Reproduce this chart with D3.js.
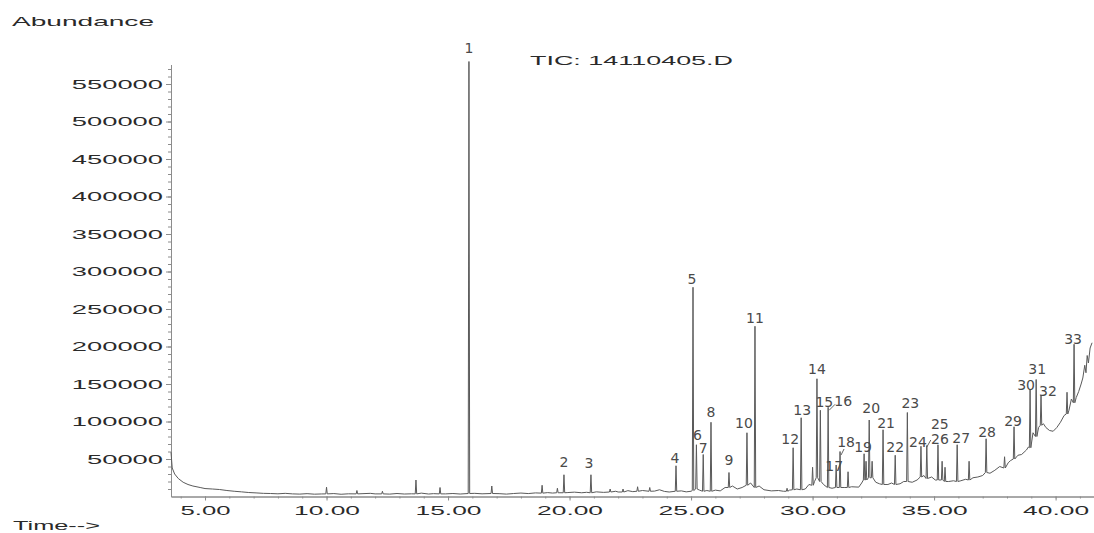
<!DOCTYPE html>
<html>
<head>
<meta charset="utf-8">
<script src="https://cdn.jsdelivr.net/npm/d3@7"></script>
<style>
    body { margin: 0; background: #fff; }
    .lbl { font-family: "Liberation Sans", Arial, sans-serif; fill: #2a2a2a; }
    .pk { font-family: "DejaVu Sans", sans-serif; font-size: 14px; fill: #4a4a4a; }
    .axis path, .axis line { stroke: #8c8c8c; }
</style>
</head>
<body>
<div class="chart"></div>
<script>
// labelled peaks: retention time (min), apex abundance, baseline under the peak
const peakLabels = ["1","2","3","4","5","6","7","8","9","10","11","12","13","14","15","16","17",
    "18","19","20","21","22","23","24","25","26","27","28","29","30","31","32","33"];
const peakTimes = [15.86, 19.77, 20.88, 24.38, 25.08, 25.22, 25.50, 25.82, 26.56, 27.30, 27.63,
    29.20, 29.53, 30.18, 30.32, 30.64, 30.97, 31.13, 32.12, 32.33, 32.90, 33.40, 33.90, 34.46,
    34.70, 35.16, 35.95, 37.14, 38.29, 38.95, 39.20, 39.40, 40.76];
const peakApex = [580000, 29000, 29000, 41000, 279000, 69000, 56000, 99000, 32000, 85000, 227000,
    65000, 105000, 157000, 115000, 119000, 42000, 60000, 57000, 102000, 89000, 55000, 112000, 67000,
    68000, 69000, 69000, 77000, 93000, 143000, 156000, 135000, 203000];
const peakFoot = [4000, 5000, 5000, 7000, 8000, 10000, 7000, 7000, 12000, 15000, 12000,
    9000, 9000, 25000, 20000, 12000, 12000, 12000, 22000, 25000, 16000, 16000, 20000, 26000,
    24000, 22000, 20000, 32000, 50000, 65000, 80000, 95000, 125000];

// small unlabelled peaks: time, apex, foot
const minorPeaks = [
    [10.00, 12400, 3500], [11.25, 8000, 3500], [12.30, 7000, 3500], [13.68, 22000, 3500],
    [14.67, 12000, 3500], [16.80, 14000, 4000], [18.87, 15000, 4500], [19.50, 11000, 5000],
    [21.67, 10000, 6000], [22.20, 10000, 6000], [22.80, 13000, 7000], [23.30, 12000, 7000],
    [28.95, 11000, 7000], [30.00, 39000, 15000], [31.46, 33000, 12000], [32.20, 47000, 22000],
    [32.45, 47000, 25000], [35.33, 47000, 22000], [35.45, 39000, 20000], [36.44, 47000, 22000],
    [37.90, 53000, 38000], [40.47, 139000, 110000]
];

// baseline of the trace: time, abundance
const baseline = [
    [3.60, 59000], [3.65, 38000], [3.75, 30000], [3.90, 24000], [4.10, 19000], [4.30, 16000],
    [4.50, 14000], [4.80, 12000], [5.00, 10600], [5.30, 10000], [5.60, 9300], [5.90, 8000],
    [6.20, 7000], [6.50, 6200], [6.80, 5300], [7.10, 4800], [7.40, 4200], [7.70, 4000],
    [8.00, 3600], [8.30, 4200], [8.60, 3500], [8.90, 3200], [9.20, 3800], [9.50, 3100],
    [9.80, 3400], [10.30, 3900], [10.60, 3000], [10.90, 3600], [11.50, 3800], [11.80, 4200],
    [12.00, 3500], [12.60, 3200], [12.90, 4000], [13.20, 3300], [13.50, 3600], [13.90, 4500],
    [14.20, 3300], [14.40, 3800], [14.90, 3500], [15.20, 4000], [15.50, 3300], [16.10, 4200],
    [16.40, 3600], [17.10, 3800], [17.40, 3200], [17.70, 4000], [18.00, 4600], [18.30, 3900],
    [18.60, 4800], [19.10, 5200], [19.30, 4600], [19.90, 5200], [20.20, 5800], [20.50, 5000],
    [20.70, 5600], [21.10, 6200], [21.40, 5500], [21.90, 7000], [22.00, 6000], [22.40, 7800],
    [22.60, 6500], [23.00, 8000], [23.50, 7200], [23.70, 9000], [23.90, 6800], [24.10, 6000],
    [24.60, 7500], [24.80, 6200], [25.00, 7000], [25.35, 8500], [25.65, 8000], [26.00, 8500],
    [26.20, 7500], [26.40, 12000], [26.70, 14000], [26.90, 10000], [27.10, 12000], [27.45, 18000],
    [27.80, 14000], [28.00, 9000], [28.30, 7500], [28.60, 8000], [28.80, 7000], [29.05, 8500],
    [29.35, 10000], [29.70, 10000], [29.85, 16000], [30.08, 20000], [30.45, 16000], [30.80, 11000],
    [31.30, 12000], [31.60, 13000], [31.90, 12500], [32.02, 18000], [32.60, 19000], [32.75, 17000],
    [33.10, 16000], [33.25, 18000], [33.60, 17000], [33.75, 20000], [34.10, 19000], [34.30, 22000],
    [34.58, 28000], [34.90, 26000], [35.05, 22000], [35.60, 20000], [35.80, 21000], [36.10, 21000],
    [36.30, 23000], [36.60, 25000], [36.80, 26000], [37.00, 28000], [37.30, 31000], [37.50, 35000],
    [37.70, 40000], [38.05, 45000], [38.15, 48000], [38.45, 55000], [38.60, 56000], [38.80, 62000],
    [38.88, 66000], [39.07, 85000], [39.30, 92000], [39.50, 97000], [39.60, 92000], [39.75, 88000],
    [39.90, 87000], [40.05, 92000], [40.20, 99000], [40.35, 108000], [40.55, 115000], [40.65, 130000],
    [40.85, 132000], [40.95, 140000], [41.05, 150000], [41.12, 158000], [41.20, 175000], [41.25, 165000],
    [41.30, 188000], [41.35, 178000], [41.42, 198000], [41.50, 205000]
];

const yTicks = [50000, 100000, 150000, 200000, 250000, 300000, 350000, 400000, 450000, 500000, 550000];
const xTicks = [5, 10, 15, 20, 25, 30, 35, 40];

function drawChart() {
    const margin = { top: 64.5, right: 0, bottom: 36.5, left: 171 };
    const w = 1094;
    const h = 533;
    const chartWidth = w - margin.left - margin.right;
    const chartHeight = h - margin.top - margin.bottom;

    const xScale = d3.scaleLinear()
        .domain([3.6, 41.58])
        .range([0, chartWidth]);

    const yScale = d3.scaleLinear()
        .domain([0, 576000])
        .range([chartHeight, 0]);

    const root = d3.select('.chart')
        .append('svg')
        .attr('width', w)
        .attr('height', h);

    root.append('text').attr('class', 'lbl')
        .attr('x', 12).attr('y', 26)
        .attr('font-size', 13)
        .attr('textLength', 142).attr('lengthAdjust', 'spacingAndGlyphs')
        .text('Abundance');

    root.append('text').attr('class', 'lbl')
        .attr('x', 530).attr('y', 65)
        .attr('font-size', 13)
        .attr('textLength', 203).attr('lengthAdjust', 'spacingAndGlyphs')
        .text('TIC: 14110405.D');

    root.append('text').attr('class', 'lbl')
        .attr('x', 13).attr('y', 530)
        .attr('font-size', 13)
        .attr('textLength', 87).attr('lengthAdjust', 'spacingAndGlyphs')
        .text('Time-->');

    const svg = root.append('g')
        .attr('transform', 'translate(' + margin.left + ', ' + margin.top + ')');

    // minor ticks first, then labelled ones
    svg.append('g')
        .attr('class', 'axis')
        .call(d3.axisLeft(yScale).tickValues(d3.range(10000, 576000, 10000)).tickSize(3).tickSizeOuter(0).tickFormat(''));

    const yAxis = svg.append('g')
        .attr('class', 'axis')
        .call(d3.axisLeft(yScale).tickValues(yTicks).tickSize(5).tickSizeOuter(0).tickFormat(d => String(d)));
    yAxis.selectAll('text')
        .attr('class', 'lbl')
        .attr('font-size', 13)
        .attr('x', -8)
        .attr('textLength', d => String(d).length * 15.2)
        .attr('lengthAdjust', 'spacingAndGlyphs');

    svg.append('g')
        .attr('class', 'axis')
        .attr('transform', 'translate(0,' + chartHeight + ')')
        .call(d3.axisBottom(xScale).tickValues(d3.range(4, 42, 1)).tickSize(2).tickSizeOuter(0).tickFormat(''));

    const xAxis = svg.append('g')
        .attr('class', 'axis')
        .attr('transform', 'translate(0,' + chartHeight + ')')
        .call(d3.axisBottom(xScale).tickValues(xTicks).tickSize(4).tickSizeOuter(0).tickFormat(d3.format('.2f')));
    xAxis.selectAll('text')
        .attr('class', 'lbl')
        .attr('font-size', 13)
        .attr('y', 9)
        .attr('textLength', d => d < 10 ? 50 : 66)
        .attr('lengthAdjust', 'spacingAndGlyphs');
    svg.selectAll('.axis .domain').attr('stroke', '#8c8c8c');

    // build trace: baseline points plus narrow spikes for every peak
    const hw = 0.03;
    let pts = baseline.map(d => [d[0], d[1]]);
    const allPeaks = peakTimes.map((t, i) => [t, peakApex[i], peakFoot[i]]).concat(minorPeaks);
    for (let p of allPeaks) {
        pts.push([p[0] - hw, p[2]], [p[0], p[1]], [p[0] + hw, p[2]]);
    }
    pts.sort((a, b) => a[0] - b[0]);

    const line = d3.line()
        .x(d => xScale(d[0]))
        .y(d => yScale(d[1]));

    svg.append('path')
        .datum(pts)
        .attr('d', line)
        .attr('fill', 'none')
        .attr('stroke', '#5a5a5a')
        .attr('stroke-width', 1)
        .attr('stroke-linejoin', 'round');

    // hand-written peak numbers, nudged like the annotated print
    const nudge = {
        1: [0, -3.5], 2: [0, -3], 3: [-2, -2], 4: [-1, 2], 5: [-1, 2], 6: [1, 0], 7: [0, 3],
        8: [0, 0], 9: [0, -3], 10: [-3, 0], 11: [0, 2], 12: [-3, 1], 13: [1, 2], 14: [0, 0],
        15: [4, 2], 16: [15, 4], 17: [-2, 11], 18: [6, 0], 19: [-1, 3], 20: [2, -2], 21: [3, 3],
        22: [0, 2], 23: [3, 0], 24: [-3, 6], 25: [13, -12], 26: [2, 4], 27: [4, 3], 28: [1, 3],
        29: [-1, 4], 30: [-4, 6], 31: [1, -1], 32: [7, 6], 33: [-1, 5]
    };

    svg.selectAll('.pk')
        .data(peakLabels)
        .enter()
        .append('text')
        .attr('class', 'pk')
        .attr('text-anchor', 'middle')
        .attr('x', (d, i) => xScale(peakTimes[i]) + nudge[d][0])
        .attr('y', (d, i) => yScale(peakApex[i]) - 5 + nudge[d][1])
        .text(d => d);

    const leaders = { 16: [1, 3, 7, -3], 18: [1, 3.5, 4, -2.5], 25: [0, 1.5, 4, -5.5] };
    for (let key in leaders) {
        const i = peakLabels.indexOf(key);
        const px = xScale(peakTimes[i]);
        const py = yScale(peakApex[i]);
        const l = leaders[key];
        svg.append('line')
            .attr('x1', px + l[0]).attr('y1', py + l[1])
            .attr('x2', px + l[2]).attr('y2', py + l[3])
            .attr('stroke', '#555')
            .attr('stroke-width', 0.9);
    }
}

drawChart();
</script>
</body>
</html>
